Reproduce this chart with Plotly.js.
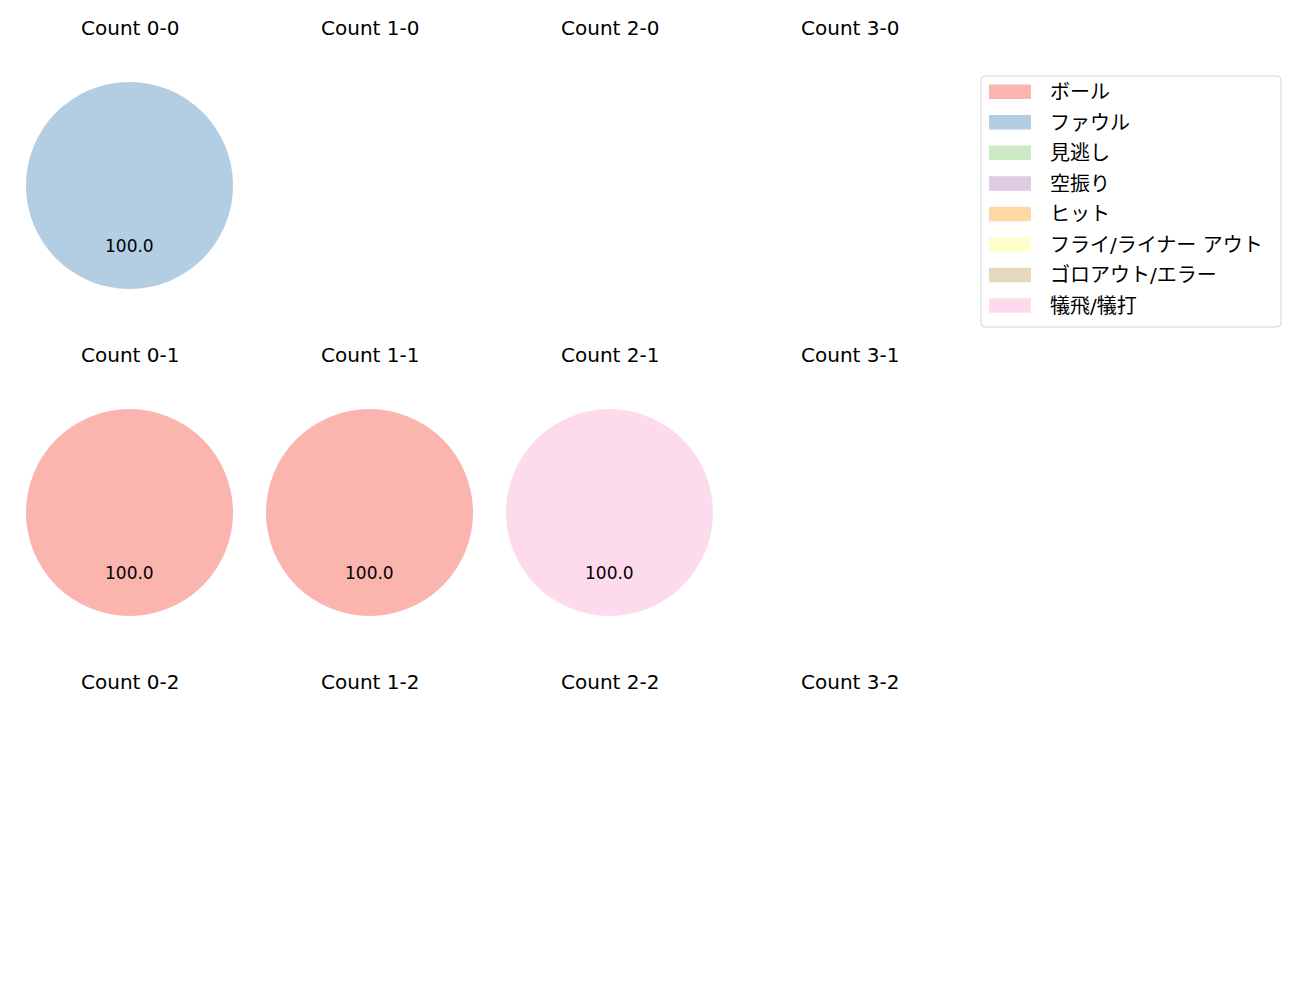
<!DOCTYPE html>
<html><head><meta charset="utf-8">
<script src="https://cdn.plot.ly/plotly-3.0.1.min.js"></script>
<style>body{margin:0;}#chart{width:1300px;height:1000px;}</style>
</head><body><div id="chart"></div>
<script>
const categories = ['ボール','ファウル','見逃し','空振り','ヒット','フライ/ライナー アウト','ゴロアウト/エラー','犠飛/犠打'];
const colors = ['#fbb4ae','#b3cde3','#ccebc5','#decbe4','#fed9a6','#ffffcc','#e5d8bd','#fddaec'];
const counts = ['0-0','1-0','2-0','3-0','0-1','1-1','2-1','3-1','0-2','1-2','2-2','3-2'];
const v00 = [0,1,0,0,0,0,0,0];
const v10 = [0,0,0,0,0,0,0,0];
const v20 = [0,0,0,0,0,0,0,0];
const v30 = [0,0,0,0,0,0,0,0];
const v01 = [1,0,0,0,0,0,0,0];
const v11 = [1,0,0,0,0,0,0,0];
const v21 = [0,0,0,0,0,0,0,1];
const v31 = [0,0,0,0,0,0,0,0];
const v02 = [0,0,0,0,0,0,0,0];
const v12 = [0,0,0,0,0,0,0,0];
const v22 = [0,0,0,0,0,0,0,0];
const v32 = [0,0,0,0,0,0,0,0];
const valuesByCount = [v00,v10,v20,v30,v01,v11,v21,v31,v02,v12,v22,v32];

const W = 1300, H = 1000;
const FONT = '"DejaVu Sans", "Noto Sans CJK JP", sans-serif';
const colCenters = [129.5, 369.5, 609.5, 849.5];
const rowCenters = [185.5, 512.5, 839.5];
const titleY = [28, 355, 682];
const R = 103.5;

const traces = [];
const annotations = [];
const shapes = [];
counts.forEach((c, i) => {
  const col = i % 4, row = Math.floor(i / 4);
  const cx = colCenters[col], cy = rowCenters[row];
  annotations.push({text: 'Count ' + c, x: cx / W, y: 1 - titleY[row] / H, xref: 'paper', yref: 'paper',
    xanchor: 'center', yanchor: 'middle', showarrow: false, font: {family: FONT, size: 20, color: '#000'}});
  const vals = valuesByCount[i];
  const total = vals.reduce((a, b) => a + b, 0);
  if (total === 0) return;
  traces.push({
    type: 'pie', labels: categories, values: vals, sort: false, direction: 'counterclockwise', rotation: 0,
    marker: {colors: colors, line: {width: 0}}, textinfo: 'none', hoverinfo: 'label+percent',
    domain: {x: [(cx - R) / W, (cx + R) / W], y: [1 - (cy + R) / H, 1 - (cy - R) / H]},
    showlegend: false
  });
  // autopct-style labels at 0.6 radius at mid-angle (start 90°, counter-clockwise)
  let start = 90;
  vals.forEach((v) => {
    if (v <= 0) return;
    const sweep = v / total * 360;
    const mid = (start + sweep / 2) * Math.PI / 180;
    const lx = cx + 0.6 * R * Math.cos(mid);
    const ly = cy - 0.6 * R * Math.sin(mid) - 1.5;
    annotations.push({text: (v / total * 100).toFixed(1), x: lx / W, y: 1 - ly / H, xref: 'paper', yref: 'paper',
      xanchor: 'center', yanchor: 'middle', showarrow: false, font: {family: FONT, size: 17, color: '#000'}});
    start += sweep;
  });
});

// legend (matplotlib-style wide patches)
const LX0 = 981, LX1 = 1281, LY0 = 76, LY1 = 327, rr = 4;
const px = v => v / W, py = v => 1 - v / H;
shapes.push({type: 'path', xref: 'paper', yref: 'paper',
  path: `M${px(LX0+rr)},${py(LY0)} L${px(LX1-rr)},${py(LY0)} Q${px(LX1)},${py(LY0)} ${px(LX1)},${py(LY0+rr)} L${px(LX1)},${py(LY1-rr)} Q${px(LX1)},${py(LY1)} ${px(LX1-rr)},${py(LY1)} L${px(LX0+rr)},${py(LY1)} Q${px(LX0)},${py(LY1)} ${px(LX0)},${py(LY1-rr)} L${px(LX0)},${py(LY0+rr)} Q${px(LX0)},${py(LY0)} ${px(LX0+rr)},${py(LY0)} Z`,
  line: {color: '#d6d6d6', width: 1}, fillcolor: 'rgba(255,255,255,0.8)'});
categories.forEach((cat, k) => {
  const yc = 92 + k * 30.55;
  shapes.push({type: 'rect', xref: 'paper', yref: 'paper', x0: px(989), x1: px(1031), y0: py(yc - 7.5), y1: py(yc + 7),
    fillcolor: colors[k], line: {width: 0}});
  annotations.push({text: cat, x: px(1048), y: py(yc), xref: 'paper', yref: 'paper', xanchor: 'left', yanchor: 'middle',
    showarrow: false, font: {family: FONT, size: 20, color: '#000'}});
});

const layout = {
  width: W, height: H, margin: {l: 0, r: 0, t: 0, b: 0},
  paper_bgcolor: '#fff', plot_bgcolor: '#fff',
  font: {family: FONT, size: 20, color: '#000'},
  showlegend: false,
  annotations: annotations,
  shapes: shapes
};
Plotly.newPlot('chart', traces, layout, {staticPlot: true});
</script></body></html>
